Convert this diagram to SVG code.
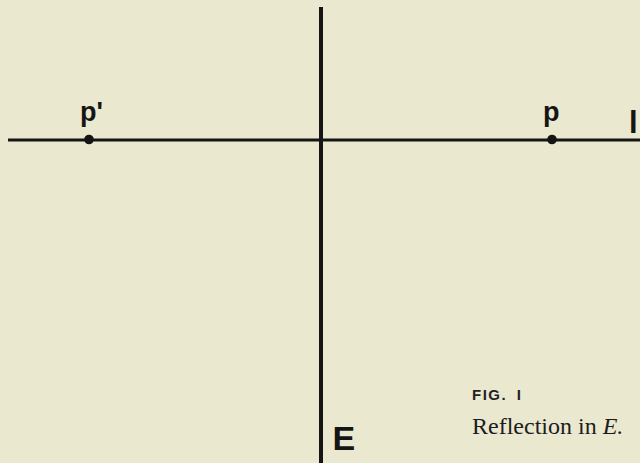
<svg xmlns="http://www.w3.org/2000/svg" width="640" height="463" viewBox="0 0 640 463">
<style>
.lbl{font-family:"Liberation Sans",Arial,sans-serif;font-weight:bold;fill:#151515}
.fig{font-family:"Liberation Sans",Arial,sans-serif;font-weight:bold;fill:#222222}
.cap{font-family:"Liberation Serif","Times New Roman",serif;fill:#1c1c1c}
.ln{stroke:#151515;fill:none}
.pt{fill:#151515}
</style>
<rect width="640" height="463" fill="#ebe8d0"/>
<g id="connectors">
<line class="ln" x1="8" y1="140" x2="640" y2="140" stroke-width="3"/>
<line class="ln" x1="321" y1="7" x2="321" y2="463" stroke-width="4"/>
</g>
<g id="p-prime">
<circle class="pt" cx="89" cy="139.5" r="4.8"/>
<text class="lbl" x="80" y="121" font-size="27">p'</text>
</g>
<g id="p">
<circle class="pt" cx="552" cy="139.5" r="4.8"/>
<text class="lbl" x="543" y="121" font-size="27">p</text>
</g>
<g id="l">
<text class="lbl" x="629" y="133" font-size="31">l</text>
</g>
<g id="E">
<text class="lbl" x="332.5" y="450" font-size="34">E</text>
</g>
<g id="caption">
<text class="fig" x="472" y="400" font-size="15" letter-spacing="1.5" word-spacing="4">FIG. I</text>
<text class="cap" x="472" y="434" font-size="24">Reflection in <tspan font-style="italic">E.</tspan></text>
</g>
</svg>
